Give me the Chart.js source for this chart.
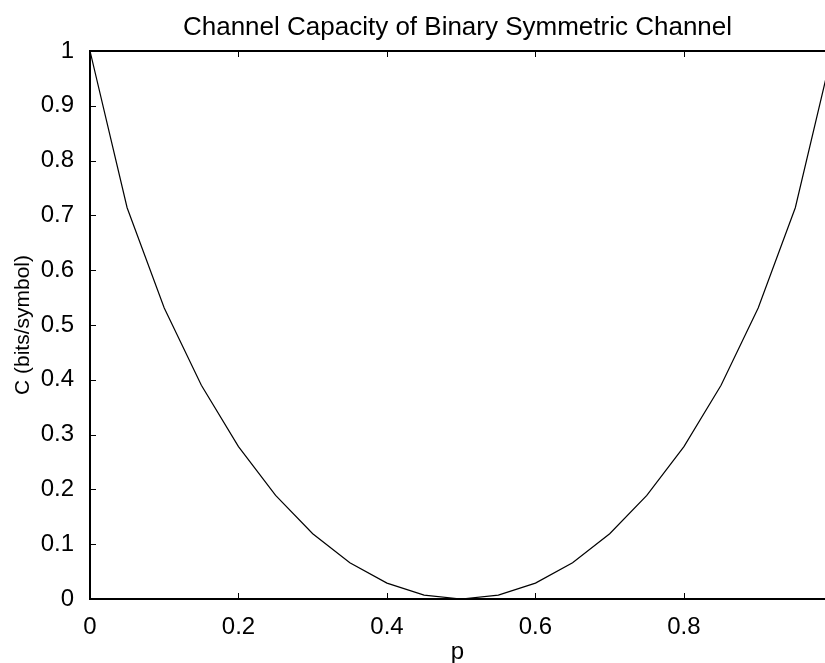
<!DOCTYPE html>
<html>
<head>
<meta charset="utf-8">
<title>Channel Capacity of Binary Symmetric Channel</title>
<script src="https://cdn.jsdelivr.net/npm/chart.js@4.4.1/dist/chart.umd.min.js"></script>
<style>
  html, body { margin: 0; padding: 0; background: #fff; overflow: hidden; }
  #wrap { width: 825px; height: 663px; }
</style>
</head>
<body>
<div id="wrap"><canvas id="bscChart" width="825" height="663"></canvas></div>
<script>
// crossover probability p and capacity C (bits/symbol)
const pValues = [0, 0.05, 0.1, 0.15, 0.2, 0.25, 0.3, 0.35, 0.4, 0.45, 0.5,
                 0.55, 0.6, 0.65, 0.7, 0.75, 0.8, 0.85, 0.9, 0.95, 1];
const capacity = [1, 0.714, 0.531, 0.390, 0.278, 0.189, 0.119, 0.066, 0.029, 0.007, 0,
                  0.007, 0.029, 0.066, 0.119, 0.189, 0.278, 0.390, 0.531, 0.714, 1];

const xTicks = [0, 0.2, 0.4, 0.6, 0.8];
const yTicks = [0, 0.1, 0.2, 0.3, 0.4, 0.5, 0.6, 0.7, 0.8, 0.9, 1];

const X_MIN = 0;
const X_MAX = 0.99;

const FONT = "'Liberation Sans', Arial, Helvetica, sans-serif";
const INK = '#000';

// matlab style inward tick marks
const inwardTicks = {
  id: 'inwardTicks',
  afterDraw(chart) {
    const { ctx, chartArea, scales } = chart;
    const len = 6;
    ctx.save();
    ctx.strokeStyle = INK;
    ctx.lineWidth = 1;
    ctx.beginPath();
    scales.x.ticks.forEach(t => {
      const px = Math.round(scales.x.getPixelForValue(t.value)) + 0.5;
      ctx.moveTo(px, chartArea.bottom);
      ctx.lineTo(px, chartArea.bottom - len);
      ctx.moveTo(px, chartArea.top);
      ctx.lineTo(px, chartArea.top + len);
    });
    scales.y.ticks.forEach(t => {
      const py = Math.round(scales.y.getPixelForValue(t.value)) + 0.5;
      ctx.moveTo(chartArea.left, py);
      ctx.lineTo(chartArea.left + len, py);
    });
    ctx.stroke();
    ctx.restore();
  }
};

const fmt = v => String(Math.round(v * 10) / 10);

new Chart(document.getElementById('bscChart'), {
  type: 'line',
  data: {
    datasets: [{
      label: 'C',
      data: pValues.map((p, i) => ({ x: p, y: capacity[i] })),
      borderColor: INK,
      borderWidth: 1.2,
      pointRadius: 0,
      tension: 0,
      fill: false
    }]
  },
  options: {
    responsive: false,
    animation: false,
    devicePixelRatio: 1,
    layout: { padding: 0 },
    plugins: {
      legend: { display: false },
      tooltip: { enabled: false },
      title: { display: false }
    },
    scales: {
      x: {
        type: 'linear',
        position: 'bottom',
        min: X_MIN,
        max: X_MAX,
        afterBuildTicks: s => { s.ticks = xTicks.map(v => ({ value: v })); },
        afterFit: s => { s.height = 64; },
        grid: { display: false },
        border: { display: true, color: INK, width: 2 },
        ticks: {
          color: INK,
          padding: 6,
          maxRotation: 0,
          font: { family: FONT, size: 24 },
          callback: v => fmt(v)
        },
        title: {
          display: true,
          text: 'p',
          color: INK,
          font: { family: FONT, size: 24, lineHeight: 1 },
          padding: { top: 0, bottom: -1 }
        }
      },
      x2: {
        type: 'linear',
        position: 'top',
        min: X_MIN,
        max: X_MAX,
        afterFit: s => { s.height = 51; },
        grid: { display: false },
        border: { display: true, color: INK, width: 2 },
        ticks: { display: false },
        title: {
          display: true,
          text: 'Channel Capacity of Binary Symmetric Channel',
          color: INK,
          font: { family: FONT, size: 26, lineHeight: 1.2 },
          padding: { top: 12, bottom: 0 }
        }
      },
      y: {
        type: 'linear',
        position: 'left',
        min: 0,
        max: 1,
        afterBuildTicks: s => { s.ticks = yTicks.map(v => ({ value: v })); },
        afterFit: s => { s.width = 90; },
        grid: { display: false },
        border: { display: true, color: INK, width: 2 },
        ticks: {
          color: INK,
          padding: 8,
          font: { family: FONT, size: 24 },
          callback: v => fmt(v)
        },
        title: {
          display: true,
          text: 'C (bits/symbol)',
          color: INK,
          font: { family: FONT, size: 21, lineHeight: 1.2 },
          padding: { top: 11, bottom: 0 }
        }
      }
    }
  },
  plugins: [inwardTicks]
});
</script>
</body>
</html>
